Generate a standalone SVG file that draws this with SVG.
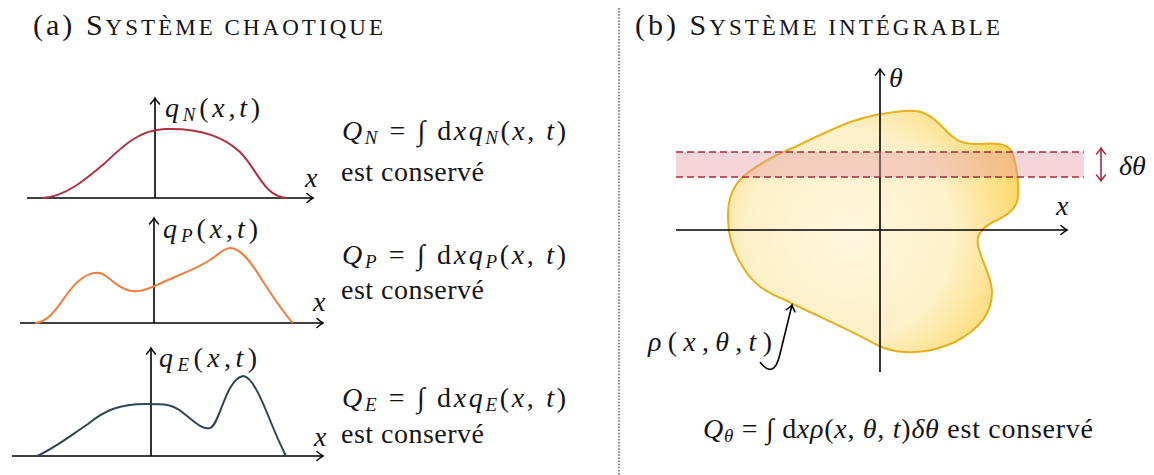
<svg xmlns="http://www.w3.org/2000/svg" width="1154" height="475" viewBox="0 0 1154 475">
<style>
.t{fill:#151515}
.m{font-size:28px;fill:#151515}
.i{font-style:italic}
.s{font-size:19px;font-style:italic}
.ax{stroke:#000;stroke-width:1.6;fill:none}
.cv{fill:none;stroke-width:2}
.dash{stroke:#a8283a;stroke-width:1.5;stroke-dasharray:7 4;fill:none}
</style>
<defs>
<marker id="ar" viewBox="-8 -6 10 12" markerWidth="10" markerHeight="12" refX="0" refY="0" orient="auto" markerUnits="userSpaceOnUse">
<path d="M-6,-4.5 Q-2,-1 0,0 Q-2,1 -6,4.5" fill="none" stroke="#000" stroke-width="1.5" stroke-linecap="round"/>
</marker>
<marker id="arr" viewBox="-8 -6 10 12" markerWidth="10" markerHeight="12" refX="0" refY="0" orient="auto-start-reverse" markerUnits="userSpaceOnUse">
<path d="M-6,-4.5 Q-2,-1 0,0 Q-2,1 -6,4.5" fill="none" stroke="#a8283a" stroke-width="1.5" stroke-linecap="round"/>
</marker>
<radialGradient id="bg" cx="850" cy="235" r="175" gradientUnits="userSpaceOnUse">
<stop offset="0" stop-color="#fff7e0"/>
<stop offset="0.6" stop-color="#fdf0c8"/>
<stop offset="1" stop-color="#fdd968"/>
</radialGradient>
</defs>

<line x1="619" y1="8" x2="619" y2="475" stroke="#333" stroke-width="1.2" stroke-dasharray="1.5 1.6"/>

<g font-family="Liberation Serif, DejaVu Serif, serif">
<g id="title-a">
<text class="t" x="33" y="35" font-size="30" textLength="350" lengthAdjust="spacing">(a) S<tspan font-size="23">YSTÈME CHAOTIQUE</tspan></text>
</g>
<g id="title-b">
<text class="t" x="635" y="35" font-size="30" textLength="365" lengthAdjust="spacing">(b) S<tspan font-size="23">YSTÈME INTÉGRABLE</tspan></text>
</g>

<g id="graph-N">
<line class="ax" x1="27" y1="198" x2="313" y2="198" marker-end="url(#ar)"/>
<line class="ax" x1="155" y1="198" x2="155" y2="98" marker-end="url(#ar)"/>
<path class="cv" stroke="#b0323f" d="M42 198 C65 197 85 180 105 163 C125 144 140 130 165 129 C195 128 222 135 240 152 C258 170 263 196 287 198"/>
<text class="m" x="165" y="117" textLength="95" lengthAdjust="spacing"><tspan class="i">q</tspan><tspan class="s" dy="4">N</tspan><tspan dy="-4">(</tspan><tspan class="i">x</tspan>,<tspan class="i">t</tspan>)</text>
<text class="m i" x="305" y="187">x</text>
</g>

<g id="graph-P">
<line class="ax" x1="20" y1="323" x2="323" y2="323" marker-end="url(#ar)"/>
<line class="ax" x1="154" y1="323" x2="154" y2="218" marker-end="url(#ar)"/>
<path class="cv" stroke="#ef7d3c" d="M35 323 C55 322 65 290 80 280 C88 273 98 270 106 276 C114 282 118 287 125 289 C135 294 145 290 155 286 C175 276 195 270 210 260 C218 255 224 248 230 248 C240 248 250 260 262 280 C275 300 285 315 293 323"/>
<text class="m" x="163" y="238" textLength="95" lengthAdjust="spacing"><tspan class="i">q</tspan><tspan class="s" dy="4">P</tspan><tspan dy="-4">(</tspan><tspan class="i">x</tspan>,<tspan class="i">t</tspan>)</text>
<text class="m i" x="313" y="311">x</text>
</g>

<g id="graph-E">
<line class="ax" x1="12" y1="456" x2="323" y2="456" marker-end="url(#ar)"/>
<line class="ax" x1="151" y1="456" x2="151" y2="348" marker-end="url(#ar)"/>
<path class="cv" stroke="#2f4654" d="M37 456 C55 448 70 436 88 424 C105 410 120 404 145 404 C165 404 172 404 182 412 C195 422 202 430 210 428 C220 425 225 380 243 376 C252 376 262 400 272 425 C278 440 283 450 286 456"/>
<text class="m" x="159" y="367" textLength="98" lengthAdjust="spacing"><tspan class="i">q</tspan><tspan class="s" dy="4">E</tspan><tspan dy="-4">(</tspan><tspan class="i">x</tspan>,<tspan class="i">t</tspan>)</text>
<text class="m i" x="314" y="446">x</text>
</g>

<g id="eq-N">
<text class="m" x="342" y="140" textLength="224" lengthAdjust="spacing"><tspan class="i">Q</tspan><tspan class="s" dy="4">N</tspan><tspan dy="-4"> = ∫ d</tspan><tspan class="i">xq</tspan><tspan class="s" dy="4">N</tspan><tspan dy="-4">(</tspan><tspan class="i">x</tspan>, <tspan class="i">t</tspan>)</text>
<text class="m" x="341" y="181" textLength="143" lengthAdjust="spacing">est conservé</text>
</g>
<g id="eq-P">
<text class="m" x="342" y="264" textLength="224" lengthAdjust="spacing"><tspan class="i">Q</tspan><tspan class="s" dy="4">P</tspan><tspan dy="-4"> = ∫ d</tspan><tspan class="i">xq</tspan><tspan class="s" dy="4">P</tspan><tspan dy="-4">(</tspan><tspan class="i">x</tspan>, <tspan class="i">t</tspan>)</text>
<text class="m" x="341" y="299" textLength="143" lengthAdjust="spacing">est conservé</text>
</g>
<g id="eq-E">
<text class="m" x="342" y="407" textLength="224" lengthAdjust="spacing"><tspan class="i">Q</tspan><tspan class="s" dy="4">E</tspan><tspan dy="-4"> = ∫ d</tspan><tspan class="i">xq</tspan><tspan class="s" dy="4">E</tspan><tspan dy="-4">(</tspan><tspan class="i">x</tspan>, <tspan class="i">t</tspan>)</text>
<text class="m" x="341" y="443" textLength="143" lengthAdjust="spacing">est conservé</text>
</g>

<g id="blob">
<path fill="url(#bg)" stroke="#e6b01e" stroke-width="2" d="M880 114 C895 112 905 110 915 111 C932 112 942 128 953 137 C960 143 967 144 980 144 C995 143 1008 143 1012 152 C1017 165 1019 185 1018 197 C1017 210 1005 217 993 222 C982 228 976 236 978 245 C981 262 992 275 992 293 C992 315 978 330 955 342 C940 349 925 353 905 352 C893 352 885 349 875 344 C850 330 815 315 785 300 C765 292 752 283 743 267 C732 250 728 235 728 215 C728 198 733 185 745 175 C760 163 775 155 795 147 C815 137 835 128 850 122 C862 118 870 116 880 114 Z"/>
</g>

<g id="axes-b">
<line class="ax" x1="676" y1="230" x2="1067" y2="230" marker-end="url(#ar)"/>
<line class="ax" x1="880" y1="372" x2="880" y2="69" marker-end="url(#ar)"/>
<text class="m i" x="889" y="87">θ</text>
<text class="m i" x="1056" y="215">x</text>
</g>

<g id="band">
<rect x="676" y="152" width="408" height="25" fill="#e89aa8" fill-opacity="0.42"/>
<line class="dash" x1="676" y1="152" x2="1084" y2="152"/>
<line class="dash" x1="676" y1="177" x2="1084" y2="177"/>
<line x1="1101" y1="148" x2="1101" y2="181" stroke="#a8283a" stroke-width="1.6" marker-start="url(#arr)" marker-end="url(#arr)"/>
<text class="m i" x="1119" y="175" font-size="30">δθ</text>
</g>

<g id="rho-label">
<path d="M760 362 Q774 380 780 354 L792 305" fill="none" stroke="#000" stroke-width="1.6" marker-end="url(#ar)"/>
<text class="m" x="648" y="351" font-size="33" textLength="124" lengthAdjust="spacing"><tspan class="i">ρ</tspan>(<tspan class="i">x</tspan>,<tspan class="i">θ</tspan>,<tspan class="i">t</tspan>)</text>
</g>

<g id="eq-theta">
<text class="m" x="703" y="438" textLength="390" lengthAdjust="spacing"><tspan class="i">Q</tspan><tspan class="s" dy="4">θ</tspan><tspan dy="-4"> = ∫ d</tspan><tspan class="i">xρ</tspan>(<tspan class="i">x</tspan>, <tspan class="i">θ</tspan>, <tspan class="i">t</tspan>)<tspan class="i">δθ</tspan> est conservé</text>
</g>
</g>
</svg>
